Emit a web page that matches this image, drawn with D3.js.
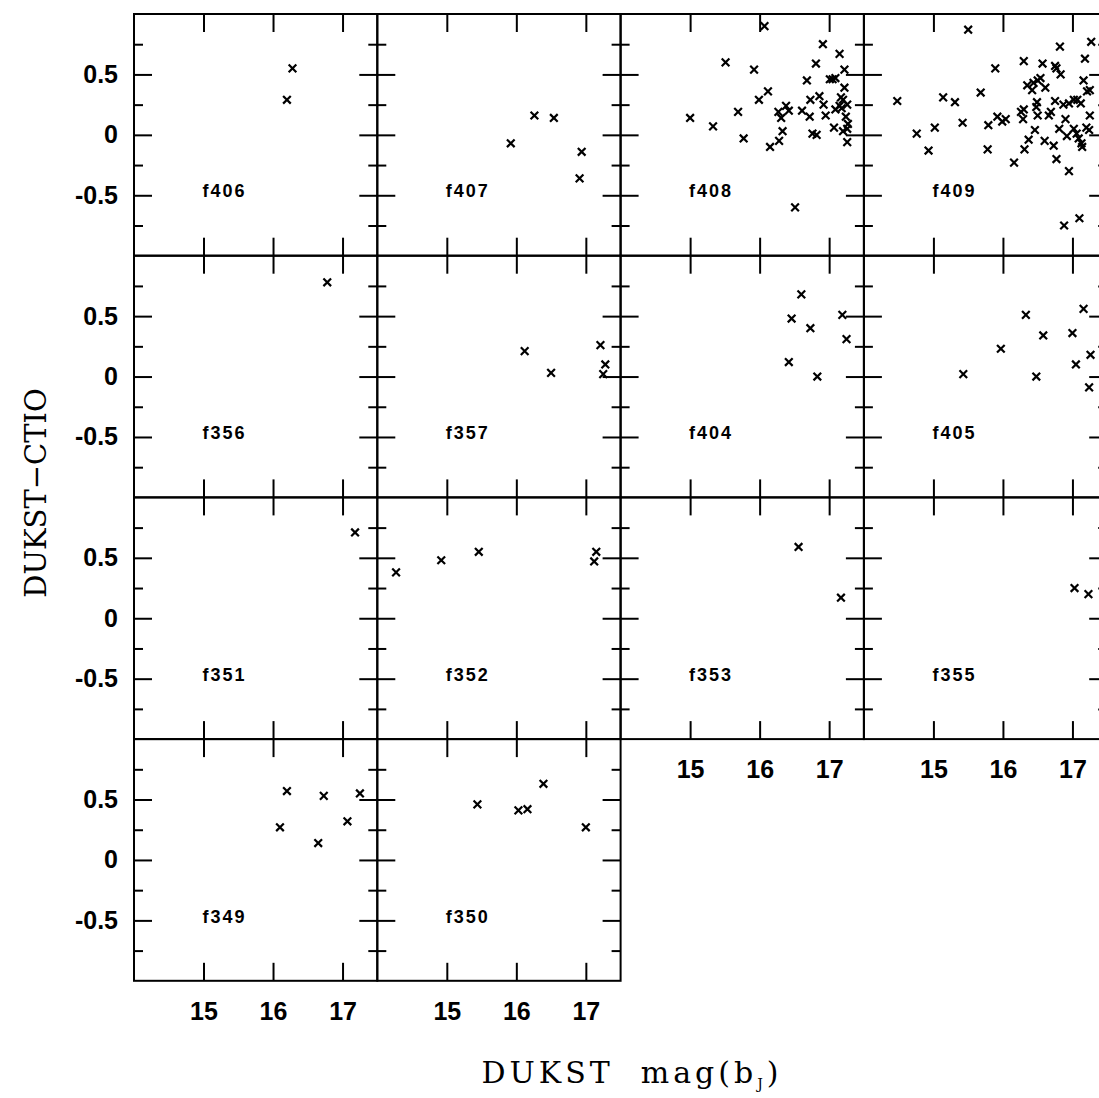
<!DOCTYPE html>
<html>
<head>
<meta charset="utf-8">
<script src="https://cdn.jsdelivr.net/npm/d3@7"></script>
<style>
body { margin: 0; background: #fff; }
</style>
</head>
<body>
<div id="chart"></div>
<script>
'use strict';

// field names, one row of panels per line (top row first)
var panelRows = [
    ['f406', 'f407', 'f408', 'f409'],
    ['f356', 'f357', 'f404', 'f405'],
    ['f351', 'f352', 'f353', 'f355'],
    ['f349', 'f350']
];

// points per field: [DUKST mag(bJ), DUKST-CTIO]
var f406 = [[16.28, 0.55], [16.20, 0.29]];
var f407 = [[15.92, -0.07], [16.26, 0.16], [16.54, 0.14], [16.94, -0.14], [16.91, -0.36]];
var f408 = [[16.07, 0.90], [16.91, 0.75], [17.15, 0.67], [15.51, 0.60], [16.81, 0.59], [15.92, 0.54],
    [17.22, 0.54], [16.68, 0.45], [17.01, 0.46], [17.05, 0.46], [17.09, 0.47], [16.12, 0.36],
    [17.22, 0.39], [15.99, 0.29], [16.73, 0.29], [16.86, 0.32], [17.17, 0.31], [17.20, 0.29],
    [16.92, 0.25], [17.15, 0.24], [17.26, 0.25], [15.69, 0.19], [16.27, 0.19], [16.38, 0.24],
    [16.42, 0.20], [16.31, 0.14], [16.61, 0.20], [16.72, 0.15], [16.95, 0.16], [17.09, 0.21],
    [17.18, 0.22], [17.24, 0.15], [15.00, 0.14], [15.33, 0.07], [17.27, 0.09], [17.07, 0.06],
    [17.20, 0.03], [17.26, 0.05], [16.33, 0.03], [16.76, 0.01], [16.82, 0.00], [15.77, -0.03],
    [16.28, -0.05], [16.15, -0.10], [17.26, -0.06], [16.51, -0.60]];
var f409 = [[15.50, 0.87], [17.27, 0.77], [16.82, 0.73], [17.18, 0.63], [16.30, 0.61], [16.57, 0.59],
    [15.89, 0.55], [16.75, 0.57], [16.77, 0.55], [16.83, 0.50], [17.16, 0.45], [16.35, 0.41],
    [16.44, 0.43], [16.50, 0.45], [16.54, 0.47], [16.42, 0.37], [16.61, 0.39], [15.68, 0.35],
    [17.25, 0.37], [17.21, 0.36], [14.48, 0.28], [15.14, 0.31], [15.31, 0.27], [16.49, 0.27],
    [16.75, 0.28], [16.87, 0.25], [16.95, 0.26], [17.02, 0.29], [17.07, 0.29], [17.12, 0.26],
    [16.30, 0.21], [16.26, 0.19], [16.48, 0.23], [16.50, 0.16], [16.69, 0.19], [16.66, 0.16],
    [17.25, 0.16], [15.92, 0.15], [15.99, 0.11], [16.04, 0.13], [15.79, 0.08], [15.42, 0.10],
    [16.29, 0.13], [16.90, 0.13], [15.02, 0.06], [14.76, 0.01], [16.46, 0.04], [16.81, 0.05],
    [17.02, 0.05], [17.20, 0.06], [17.24, 0.04], [16.92, -0.01], [17.06, 0.01], [17.09, -0.03],
    [17.13, -0.07], [17.14, -0.10], [16.37, -0.04], [16.60, -0.05], [16.73, -0.09], [14.93, -0.13],
    [15.78, -0.12], [16.31, -0.12], [16.77, -0.20], [16.16, -0.23], [16.95, -0.30], [17.10, -0.69],
    [16.88, -0.75]];
var f356 = [[16.78, 0.78]];
var f357 = [[16.12, 0.21], [16.50, 0.03], [17.21, 0.26], [17.28, 0.10], [17.25, 0.02]];
var f404 = [[16.60, 0.68], [16.46, 0.48], [16.73, 0.40], [17.19, 0.51], [17.25, 0.31], [16.42, 0.12],
    [16.83, 0.00]];
var f405 = [[15.43, 0.02], [15.97, 0.23], [16.33, 0.51], [16.58, 0.34], [16.48, 0.00], [17.00, 0.36],
    [17.16, 0.56], [17.05, 0.10], [17.26, 0.18], [17.24, -0.09]];
var f351 = [[17.18, 0.71]];
var f352 = [[14.27, 0.38], [14.92, 0.48], [15.46, 0.55], [17.15, 0.55], [17.12, 0.47]];
var f353 = [[16.56, 0.59], [17.17, 0.17]];
var f355 = [[17.03, 0.25], [17.23, 0.20]];
var f349 = [[16.20, 0.57], [16.73, 0.53], [17.25, 0.55], [17.07, 0.32], [16.10, 0.27], [16.65, 0.14]];
var f350 = [[15.44, 0.46], [16.03, 0.41], [16.16, 0.42], [16.39, 0.63], [17.00, 0.27]];

var xTicks = [15, 16, 17];
var yTicks = [-0.5, 0, 0.5];
var yMinorTicks = [-0.75, -0.25, 0.25, 0.75];
var xTickLabels = ['15', '16', '17'];
var yTickLabels = ['-0.5', '0', '0.5'];

var fields = {
    f406: f406, f407: f407, f408: f408, f409: f409,
    f356: f356, f357: f357, f404: f404, f405: f405,
    f351: f351, f352: f352, f353: f353, f355: f355,
    f349: f349, f350: f350
};

var CONFIG = {
    width: 1099,
    height: 1098,
    grid: {
        left: 134,
        top: 14,
        panelWidth: 243.3,
        panelHeight: 241.7
    },
    xDomain: [14, 17.5],
    yDomain: [-1, 1],
    tick: { major: 18, minor: 9 },
    tickFont: '"Liberation Sans", Arial, sans-serif',
    titleFont: '"DejaVu Serif", serif'
};

var svg = d3.select('#chart').append('svg')
    .attr('width', CONFIG.width)
    .attr('height', CONFIG.height)
    .style('display', 'block');

var x = d3.scaleLinear().domain(CONFIG.xDomain).range([0, CONFIG.grid.panelWidth]);
var y = d3.scaleLinear().domain(CONFIG.yDomain).range([CONFIG.grid.panelHeight, 0]);

var symbolX = d3.symbol().type(d3.symbolX).size(40);

function styleAxis(g) {
    g.select('.domain').remove();
    g.selectAll('.tick line').attr('stroke', '#000').attr('stroke-width', 2);
}

function xLabelFormat(d) {
    return xTickLabels[xTicks.indexOf(d)];
}

function yLabelFormat(d) {
    return yTickLabels[yTicks.indexOf(d)];
}

function drawPanel(name, row, col, showX, showY) {
    var w = CONFIG.grid.panelWidth;
    var h = CONFIG.grid.panelHeight;
    var g = svg.append('g')
        .attr('transform', 'translate(' + (CONFIG.grid.left + col * w) + ',' + (CONFIG.grid.top + row * h) + ')');

    // ticks point inwards on all four sides
    g.append('g').call(d3.axisTop(x).tickValues(xTicks).tickSize(-CONFIG.tick.major).tickFormat(''))
        .call(styleAxis);
    g.append('g').attr('transform', 'translate(0,' + h + ')')
        .call(d3.axisBottom(x).tickValues(xTicks).tickSize(-CONFIG.tick.major).tickPadding(21)
            .tickFormat(showX ? xLabelFormat : ''))
        .call(styleAxis);
    g.append('g').call(d3.axisLeft(y).tickValues(yTicks).tickSize(-CONFIG.tick.major).tickPadding(16)
            .tickFormat(showY ? yLabelFormat : ''))
        .call(styleAxis);
    g.append('g').call(d3.axisLeft(y).tickValues(yMinorTicks).tickSize(-CONFIG.tick.minor).tickFormat(''))
        .call(styleAxis);
    g.append('g').attr('transform', 'translate(' + w + ',0)')
        .call(d3.axisRight(y).tickValues(yTicks).tickSize(-CONFIG.tick.major).tickFormat(''))
        .call(styleAxis);
    g.append('g').attr('transform', 'translate(' + w + ',0)')
        .call(d3.axisRight(y).tickValues(yMinorTicks).tickSize(-CONFIG.tick.minor).tickFormat(''))
        .call(styleAxis);

    g.selectAll('.tick text')
        .attr('fill', '#000')
        .style('font-family', CONFIG.tickFont)
        .style('font-weight', 'bold')
        .style('font-size', '25px');

    g.append('rect')
        .attr('width', w)
        .attr('height', h)
        .attr('fill', 'none')
        .attr('stroke', '#000')
        .attr('stroke-width', 2);

    g.append('text')
        .attr('x', x(15) - 1)
        .attr('y', y(-0.46) + 7)
        .style('font-family', CONFIG.tickFont)
        .style('font-weight', 'bold')
        .style('font-size', '18px')
        .style('letter-spacing', '2px')
        .text(name);

    g.selectAll('path.pt')
        .data(fields[name])
        .enter().append('path')
        .attr('class', 'pt')
        .attr('transform', function (d) {
            return 'translate(' + x(d[0]) + ',' + y(d[1]) + ')';
        })
        .attr('d', symbolX)
        .attr('fill', 'none')
        .attr('stroke', '#000')
        .attr('stroke-width', 2.2);
}

for (var r = 0; r < panelRows.length; r++) {
    for (var c = 0; c < panelRows[r].length; c++) {
        // x labels only under the lowest panel of each column
        var below = panelRows[r + 1];
        var showX = !below || below.length <= c;
        drawPanel(panelRows[r][c], r, c, showX, c === 0);
    }
}

// axis titles
var xTitle = svg.append('text')
    .attr('x', 632)
    .attr('y', 1083)
    .attr('text-anchor', 'middle')
    .style('font-family', CONFIG.titleFont)
    .style('font-size', '30px')
    .style('letter-spacing', '4px');
xTitle.append('tspan').text('DUKST\u00a0\u00a0mag(b');
xTitle.append('tspan').attr('dy', 6).style('font-size', '14px').text('J');
xTitle.append('tspan').attr('dy', -6).text(')');

svg.append('text')
    .attr('transform', 'translate(46,493) rotate(-90)')
    .attr('text-anchor', 'middle')
    .style('font-family', CONFIG.titleFont)
    .style('font-size', '29px')
    .text('DUKST\u2212CTIO');
</script>
</body>
</html>
